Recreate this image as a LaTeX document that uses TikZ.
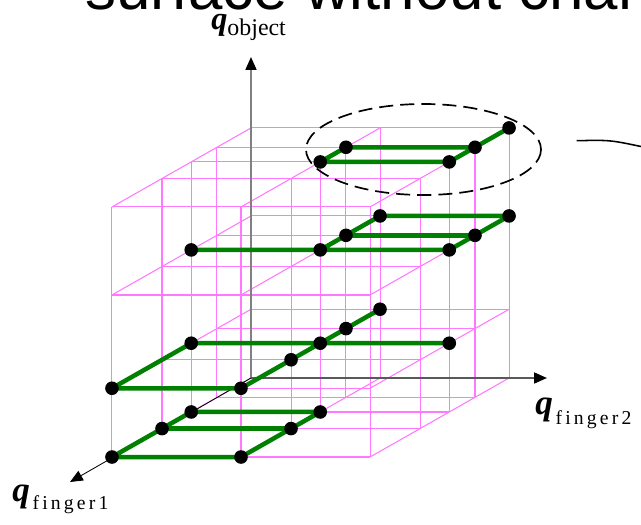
\documentclass[tikz,border=0pt]{standalone}
\usepackage{fontspec}
\setmainfont{Liberation Serif}
\newfontfamily\titlefont{Liberation Sans}
\usetikzlibrary{arrows.meta}
\definecolor{gridpink}{RGB}{255,120,255}
\definecolor{pathgreen}{RGB}{0,128,0}
\newcommand{\qsym}[1]{{\fontsize{#1}{#1}\selectfont\bfseries\itshape q}}
\newcommand{\subsp}{\fontsize{14}{14}\selectfont\addfontfeatures{LetterSpace=16}}

\begin{document}
\begin{tikzpicture}[x=0.025cm,y=-0.025cm,
  grid/.style={gridpink,line width=0.75pt},
  link/.style={pathgreen,line width=3.2pt,line cap=round,line join=round},
  dot/.style={circle,fill=black,inner sep=0pt,minimum size=0.34cm},
  axis/.style={line width=1.4pt,-{Triangle[length=0.32cm,width=0.27cm,color=black]}},
  lbl/.style={anchor=base west,inner sep=0pt}]
  \useasboundingbox (0,0) rectangle (641,525);
  \clip (0,0) rectangle (641,525);
  \node[lbl,text depth=0pt] (title) at (85,10) {\titlefont\fontsize{44}{50}\selectfont surface without chan};
  \coordinate (O) at (251,378);
  \coordinate (zt) at (251,57);
  \coordinate (xt) at (547,378);
  \coordinate (yt) at (70,482);
  \begin{scope}[shift={(O)},x={(6.45cm,0cm)},y={(-3.475cm,-1.975cm)},z={(0cm,6.25cm)}]
    % lattice
    \foreach \u in {0,0.5,1}
      \foreach \v in {0,0.245,0.43,0.64,1}
        \draw[grid] (\u,\v,0) -- (\u,\v,1);
    \foreach \v in {0,0.245,0.43,0.64,1}
      \foreach \w in {0,0.275,0.648,1}
        \draw[grid] (0,\v,\w) -- (1,\v,\w);
    \foreach \u in {0,0.5,1}
      \foreach \w in {0,0.275,0.648,1}
        \draw[grid] (\u,0,\w) -- (\u,1,\w);
    % sample points, layer by layer
    \coordinate (n004) at (0,1,0);
    \coordinate (n003) at (0,0.64,0);
    \coordinate (n002) at (0,0.43,0);
    \coordinate (n014) at (0.5,1,0);
    \coordinate (n013) at (0.5,0.64,0);
    \coordinate (n012) at (0.5,0.43,0);
    \coordinate (n104) at (0,1,0.275);
    \coordinate (n102) at (0,0.43,0.275);
    \coordinate (n114) at (0.5,1,0.275);
    \coordinate (n113) at (0.5,0.64,0.275);
    \coordinate (n112) at (0.5,0.43,0.275);
    \coordinate (n111) at (0.5,0.245,0.275);
    \coordinate (n110) at (0.5,0,0.275);
    \coordinate (n122) at (1,0.43,0.275);
    \coordinate (n202) at (0,0.43,0.648);
    \coordinate (n212) at (0.5,0.43,0.648);
    \coordinate (n211) at (0.5,0.245,0.648);
    \coordinate (n210) at (0.5,0,0.648);
    \coordinate (n222) at (1,0.43,0.648);
    \coordinate (n221) at (1,0.245,0.648);
    \coordinate (n220) at (1,0,0.648);
    \coordinate (n312) at (0.5,0.43,1);
    \coordinate (n311) at (0.5,0.245,1);
    \coordinate (n322) at (1,0.43,1);
    \coordinate (n321) at (1,0.245,1);
    \coordinate (n320) at (1,0,1);
  \end{scope}
  % axes
  \draw[axis,gray] (O) -- (zt);
  \draw[axis,black!65] (O) -- (xt);
  \draw[axis,black,line width=0.6pt] (O) -- (yt);
  % paths
  \draw[link] (n004) -- (n003) -- (n002) -- (n012) -- (n013) -- (n014) -- cycle;
  \draw[link] (n003) -- (n013);
  \draw[link] (n122) -- (n102) -- (n104) -- (n114) -- (n113) -- (n112) -- (n111) -- (n110);
  \draw[link] (n202) -- (n222) -- (n221) -- (n220) -- (n210) -- (n211) -- (n212);
  \draw[link] (n211) -- (n221);
  \draw[link] (n311) -- (n321) -- (n322) -- (n312) -- cycle;
  \draw[link] (n321) -- (n320);
  \foreach \n in {n004,n003,n002,n014,n013,n012,
                  n104,n102,n114,n113,n112,n111,n110,n122,
                  n202,n212,n211,n210,n222,n221,n220,
                  n312,n311,n322,n321,n320}
    \node[dot] (d\n) at (\n) {};
  % zoomed region
  \draw[dash pattern=on 10pt off 5pt,line width=1.2pt] (423.5,149.5) ellipse [x radius=117.5,y radius=45.5];
  \draw[line width=1.1pt] (576.7,140.7) .. controls (610,140) .. (641,146.5);
  % labels
  \node[lbl] (qobj) at (211,30) {\qsym{23pt}\raisebox{-0.15cm}{\fontsize{17}{17}\selectfont object}};
  \node[lbl] (qf2) at (535,415) {\qsym{25pt}\kern2pt\raisebox{-0.225cm}{\subsp finger2}};
  \node[lbl] (qf1) at (12,502) {\qsym{25pt}\kern2pt\raisebox{-0.2cm}{\subsp finger1}};
\end{tikzpicture}
\end{document}
